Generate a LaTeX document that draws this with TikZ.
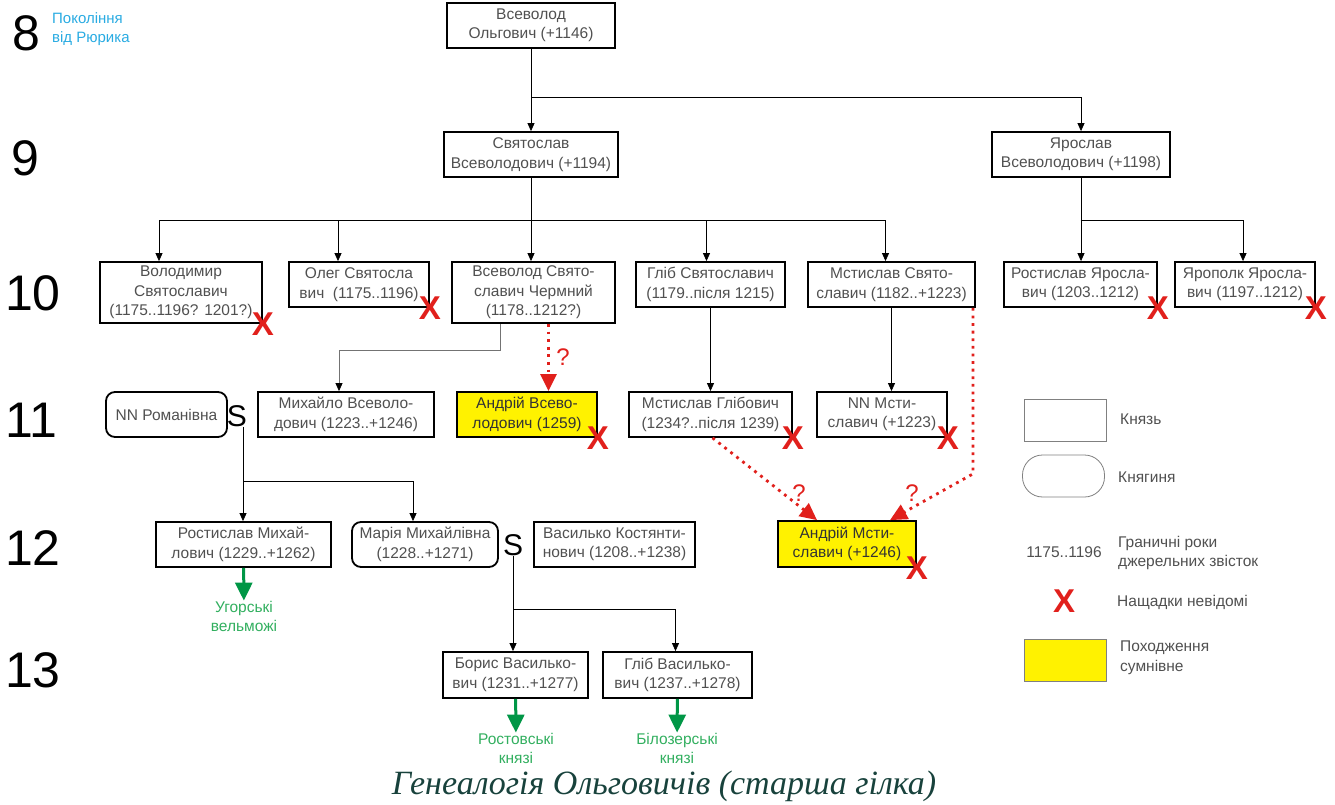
\documentclass[tikz,border=0pt]{standalone}
\usepackage{fontspec}
\setmainfont{Liberation Sans}
\newfontfamily\titlefont{Liberation Serif}
\usetikzlibrary{positioning,arrows.meta}

\definecolor{crossred}{RGB}{225,32,28}
\definecolor{heirgreen}{RGB}{0,150,70}
\definecolor{heirtext}{RGB}{50,175,95}
\definecolor{doubt}{RGB}{255,242,0}
\definecolor{skyblue}{RGB}{41,171,226}
\definecolor{titleteal}{RGB}{24,66,60}
\definecolor{boxtext}{RGB}{80,80,80}

\tikzset{
  prince/.style={draw, line width=1.8pt, align=center, inner sep=0pt, text=boxtext,
    font=\fontsize{15.5}{19.5}\selectfont, minimum height=45pt},
  princess/.style={prince, rounded corners=9pt},
  doubtful/.style={prince, fill=doubt, text=black!80},
  kid/.style={-{Triangle[length=8pt,width=7pt,color=black]}, line width=0.8pt},
  maybe/.style={crossred, line width=2.8pt, dash pattern=on 2.8pt off 4.8pt,
    -{Triangle[length=17pt,width=16pt]}},
  heir/.style={heirgreen, line width=3pt, -{Triangle[length=18pt,width=17pt]}},
  nomore/.style={text=crossred, font=\fontsize{33}{33}\selectfont\bfseries, inner sep=0pt},
  query/.style={text=crossred, font=\fontsize{24}{24}\selectfont, inner sep=0pt},
  gen/.style={font=\fontsize{50}{50}\selectfont, inner sep=0pt},
  wed/.style={font=\fontsize{30}{30}\selectfont, inner sep=0pt},
  branch/.style={text=heirtext, align=center, inner sep=0pt, font=\fontsize{15.5}{19}\selectfont},
  key/.style={draw=gray, line width=0.8pt, minimum width=82pt, minimum height=42pt},
  keytext/.style={text=boxtext, align=left, anchor=west, inner sep=0pt,
    font=\fontsize{15.5}{19.5}\selectfont},
}

\begin{document}
\begin{tikzpicture}[x=1pt, y=-1pt]
\useasboundingbox (0,0) rectangle (1335,805);

% generations
\node[gen] (g8) at (26,33) {8};
\node[gen] (g9) at (25,158) {9};
\node[gen] (g10) at (33,293) {10};
\node[gen] (g11) at (31,420) {11};
\node[gen] (g12) at (33,548) {12};
\node[gen] (g13) at (33,670) {13};
\node[anchor=north west, align=left, inner sep=0pt, text=skyblue,
  font=\fontsize{15}{19}\selectfont] (rurik) at (52,12) {Покоління\\від Рюрика};

% princes
\node[prince, minimum width=168pt] (vo) at (531,25.5) {Всеволод\\Ольгович (+1146)};
\node[prince, minimum width=174pt] (sv) at (531,154.5) {Святослав\\Всеволодович (+1194)};
\node[prince, minimum width=178pt] (ya) at (1081,154.5) {Ярослав\\Всеволодович (+1198)};

\node[prince, minimum width=162pt, minimum height=61pt] (vl) at (181,292.5)
  {Володимир\\Святославич\\(1175..1196? 1201?)};
\node[prince, minimum width=140pt] (ol) at (359,284.5) {Олег Святосла\\вич\ \ (1175..1196)};
\node[prince, minimum width=163pt, minimum height=61pt] (vch) at (533.5,292.5)
  {Всеволод Свято-\\славич Чермний\\(1178..1212?)};
\node[prince, minimum width=149pt] (hs) at (710.5,284.5) {Гліб Святославич\\(1179..після 1215)};
\node[prince, minimum width=167pt] (ms) at (891.5,284.5) {Мстислав Свято-\\славич (1182..+1223)};
\node[prince, minimum width=153pt] (ry) at (1080.5,284.5) {Ростислав Яросла-\\вич (1203..1212)};
\node[prince, minimum width=140pt] (yp) at (1245,284.5) {Ярополк Яросла-\\вич (1197..1212)};

\node[princess, minimum width=121pt] (nr) at (166.5,414.5) {NN Романівна};
\node[wed] (s1) at (237,416) {S};
\node[prince, minimum width=176pt] (mv) at (346,414.5) {Михайло Всеволо-\\дович (1223..+1246)};
\node[doubtful, minimum width=140pt] (av) at (527,414.5) {Андрій Всево-\\лодович (1259)};
\node[prince, minimum width=163pt] (mh) at (710.5,414.5) {Мстислав Глібович\\(1234?..після 1239)};
\node[prince, minimum width=130pt] (nm) at (882,414.5) {NN Мсти-\\славич (+1223)};

\node[prince, minimum width=175pt] (rm) at (243.5,544.5) {Ростислав Михай-\\лович (1229..+1262)};
\node[princess, minimum width=146pt] (mm) at (425,544.5) {Марія Михайлівна\\(1228..+1271)};
\node[wed] (s2) at (513,545) {S};
\node[prince, minimum width=161pt] (vk) at (614.5,544.5) {Василько Костянти-\\нович (1208..+1238)};
\node[doubtful, minimum width=138pt, minimum height=46pt] (am) at (847,544) {Андрій Мсти-\\славич (+1246)};

\node[prince, minimum width=145pt, minimum height=46pt] (bv) at (515.5,675) {Борис Василько-\\вич (1231..+1277)};
\node[prince, minimum width=149pt, minimum height=46pt] (hv) at (677.5,675) {Гліб Василько-\\вич (1237..+1278)};

% descendants
\node[branch] (hu) at (244,616) {Угорські\\вельможі};
\node[branch] (ro) at (516,748) {Ростовські\\князі};
\node[branch] (bi) at (677,748) {Білозерські\\князі};

% line ends
\node[nomore] (x1) at (vl.south east) {X};
\node[nomore] (x2) at (ol.south east) {X};
\node[nomore] (x3) at (av.south east) {X};
\node[nomore] (x4) at (mh.south east) {X};
\node[nomore] (x5) at (nm.south east) {X};
\node[nomore] (x6) at (ry.south east) {X};
\node[nomore] (x7) at (yp.south east) {X};
\node[nomore] (x8) at (am.south east) {X};

% links
\coordinate (j9) at (531,97);
\coordinate (j10) at (531,220);
\coordinate (j12) at (243,481);
\coordinate (j13) at (513,609);

\draw[kid] (vo) -- (sv);
\draw[kid] (j9) -| (ya);
\draw[kid] (sv) -- (sv |- vch.north);
\draw ([xshift=-22pt]vl.north |- j10) -- ([xshift=-6pt]ms.north |- j10);
\foreach \who/\dx in {vl/-22, ol/-21, hs/-4, ms/-6}
  \draw[kid] ([xshift=\dx pt]\who.north |- j10) -- ([xshift=\dx pt]\who.north);
\draw[kid] (ya) -- (ya |- ry.north);
\draw[kid] (ry.north |- j10) -| ([xshift=-2pt]yp.north);

\draw[kid, black!55] ([xshift=-33pt]vch.south) -- ++(0,26) -| ([xshift=-7pt]mv.north);
\draw[kid] (hs) -- (hs |- mh.north);
\draw[kid] (ms) -- (ms |- nm.north);

\draw[maybe] ([xshift=15pt]vch.south) -- ([xshift=15pt]vch.south |- av.north);
\draw[maybe] ([xshift=2pt]mh.south) -- ([xshift=-30pt]am.north);
\draw[maybe] ([xshift=-3pt]ms.south east) -- ++(0,166) -- ([xshift=43pt]am.north);
\node[query] (q1) at (563,357) {?};
\node[query] (q2) at (799,493) {?};
\node[query] (q3) at (912,493) {?};

\draw[kid] ([xshift=6pt]s1.south) -- ([xshift=6pt]s1.south |- rm.north);
\draw[kid] (j12) -| ([xshift=-12pt]mm.north);
\draw[kid] (s2.south) -- (s2.south |- bv.north);
\draw[kid] (j13) -| ([xshift=-2pt]hv.north);

\draw[heir] (rm) -- (hu);
\draw[heir] (bv) -- (ro);
\draw[heir] (hv) -- (bi);

% legend
\node[key] (kprince) at (1065,420) {};
\node[key, rounded corners=20pt] (kprincess) at (1063.5,476) {};
\node[text=boxtext, inner sep=0pt, font=\fontsize{15.5}{19.5}\selectfont] (kyears) at (1064,552) {1175..1196};
\node[nomore] (kcross) at (1064,601) {X};
\node[key, fill=doubt] (kdoubt) at (1065,660.5) {};
\node[keytext] (tprince) at (1120,419) {Князь};
\node[keytext] (tprincess) at (1118,477) {Княгиня};
\node[keytext] (tyears) at (1118,553) {Граничні роки\\джерельних звісток};
\node[keytext] (tcross) at (1117,602) {Нащадки невідомі};
\node[keytext] (tdoubt) at (1120,658) {Походження\\сумнівне};

\node[text=titleteal, inner sep=0pt, font=\titlefont\itshape\fontsize{34}{34}\selectfont] (title)
  at (664,786) {Генеалогія Ольговичів (старша гілка)};
\end{tikzpicture}
\end{document}
